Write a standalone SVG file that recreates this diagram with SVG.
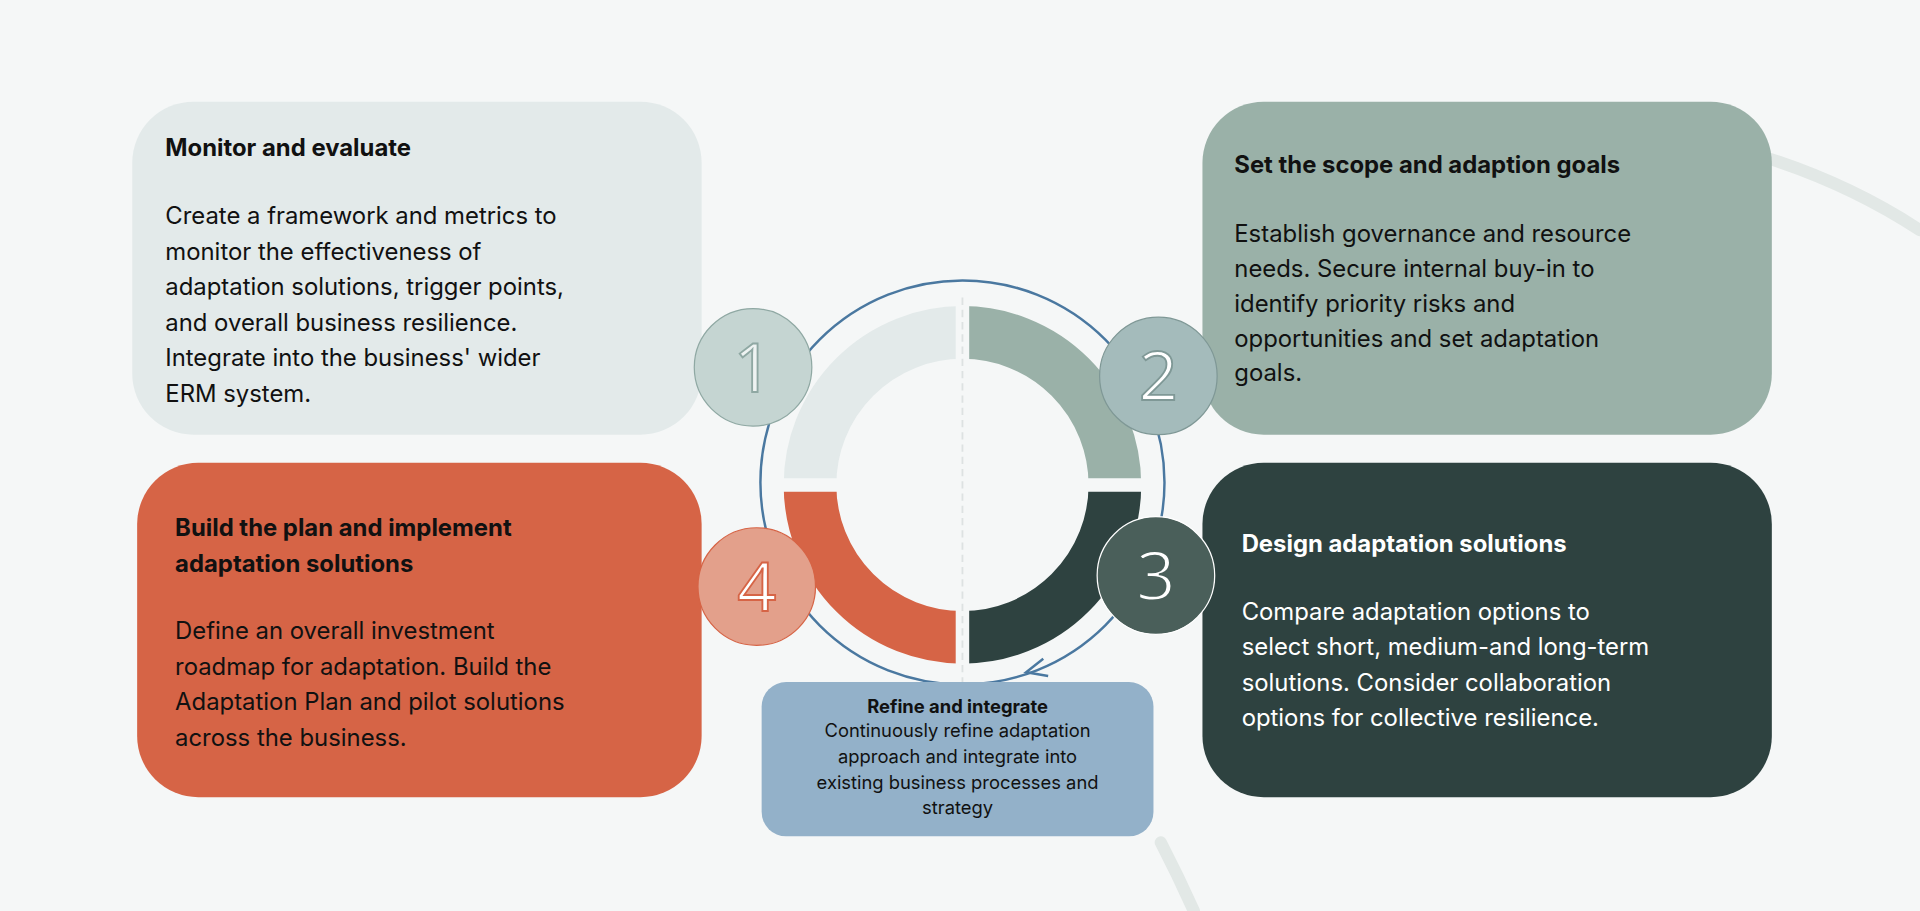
<svg xmlns="http://www.w3.org/2000/svg" width="1920" height="911" viewBox="0 0 1920 911">
<style>
.t{font-family:Inter,"Noto Sans",sans-serif;font-size:19.5px}
.b{font-weight:700}
.w{fill:#fff}
.d{fill:#111}
.num{font-family:"Open Sans","Noto Sans",sans-serif;font-size:56px;text-anchor:middle;stroke-width:1.5}
.r{font-family:Inter,"Noto Sans",sans-serif;font-size:15px;text-anchor:middle;fill:#111}
</style>
<rect width="1920" height="911" fill="#f5f7f7"/>
<g transform="scale(1.22449)">
<g id="bg-arcs" fill="none" stroke="#e2e8e6" stroke-width="10" stroke-linecap="round">
<path d="M1440 128 Q1510 150 1568 188"/>
<path d="M948 688 Q962 715 975 744"/>
</g>
<g id="node1"><rect x="108" y="83" width="465" height="272" rx="50" fill="#e3eaea"/>
<text class="t b d" x="135" y="127">Monitor and evaluate</text>
<text class="t d" x="135" y="183">Create a framework and metrics to</text>
<text class="t d" x="135" y="212">monitor the effectiveness of</text>
<text class="t d" x="135" y="241">adaptation solutions, trigger points,</text>
<text class="t d" x="135" y="270">and overall business resilience.</text>
<text class="t d" x="135" y="299">Integrate into the business' wider</text>
<text class="t d" x="135" y="328">ERM system.</text></g>
<g id="node2"><rect x="982" y="83" width="465" height="272" rx="50" fill="#9ab1a8"/>
<text class="t b d" x="1008" y="141">Set the scope and adaption goals</text>
<text class="t d" x="1008" y="198">Establish governance and resource</text>
<text class="t d" x="1008" y="226">needs. Secure internal buy-in to</text>
<text class="t d" x="1008" y="255">identify priority risks and</text>
<text class="t d" x="1008" y="283">opportunities and set adaptation</text>
<text class="t d" x="1008" y="311">goals.</text></g>
<g id="node4"><rect x="112" y="378" width="461" height="273" rx="50" fill="#d66446"/>
<text class="t b d" x="143" y="438">Build the plan and implement</text>
<text class="t b d" x="143" y="467">adaptation solutions</text>
<text class="t d" x="143" y="522">Define an overall investment</text>
<text class="t d" x="143" y="551">roadmap for adaptation. Build the</text>
<text class="t d" x="143" y="580">Adaptation Plan and pilot solutions</text>
<text class="t d" x="143" y="609">across the business.</text></g>
<g id="node3"><rect x="982" y="378" width="465" height="273" rx="50" fill="#2e4240"/>
<text class="t b w" x="1014" y="451">Design adaptation solutions</text>
<text class="t w" x="1014" y="506">Compare adaptation options to</text>
<text class="t w" x="1014" y="535">select short, medium-and long-term</text>
<text class="t w" x="1014" y="564">solutions. Consider collaboration</text>
<text class="t w" x="1014" y="593">options for collective resilience.</text></g>
<g id="ring" fill="none" stroke-width="43">
<path d="M661.5 396 A124.5 124.5 0 0 1 786 271.5" stroke="#e3eaea"/>
<path d="M786 271.5 A124.5 124.5 0 0 1 910.5 396" stroke="#9ab1a8"/>
<path d="M910.5 396 A124.5 124.5 0 0 1 786 520.5" stroke="#2e4240"/>
<path d="M786 520.5 A124.5 124.5 0 0 1 661.5 396" stroke="#d66446"/>
<path d="M786 240 V560 M620 396 H955" stroke="#f5f7f7" stroke-width="11"/>
<path d="M786 243 V560" stroke="#dde2e2" stroke-width="1.5" stroke-dasharray="6 4"/>
</g>
<g id="connectors" fill="none" stroke="#4a78a0" stroke-width="2">
<circle cx="786" cy="394" r="165"/>
<path d="M852 538 L838 549 L856 552"/>
</g>
<g id="c1"><circle cx="615" cy="300" r="48" fill="#c5d5d2" stroke="#8fa8a3"/><text class="num" x="615" y="320" fill="#eef3f2" stroke="#8fa8a3">1</text></g>
<g id="c2"><circle cx="946" cy="307" r="48" fill="#a4bbbb" stroke="#7f9896"/><text class="num" x="946" y="327" fill="#fff" stroke="#7f9896">2</text></g>
<g id="c3"><circle cx="944" cy="470" r="48" fill="#4a5f5a" stroke="#fff"/><text class="num" x="944" y="490" fill="#fff" stroke="#4a5f5a">3</text></g>
<g id="c4"><circle cx="618" cy="479" r="48" fill="#e3a08b" stroke="#d66446"/><text class="num" x="618" y="499" fill="#fff" stroke="#d66446">4</text></g>
<g id="refine"><rect x="622" y="557" width="320" height="126" rx="20" fill="#93b1c9"/>
<text class="r b" x="782" y="582">Refine and integrate</text>
<text class="r" x="782" y="602">Continuously refine adaptation</text>
<text class="r" x="782" y="623">approach and integrate into</text>
<text class="r" x="782" y="644">existing business processes and</text>
<text class="r" x="782" y="665">strategy</text></g>
</g>
</svg>
